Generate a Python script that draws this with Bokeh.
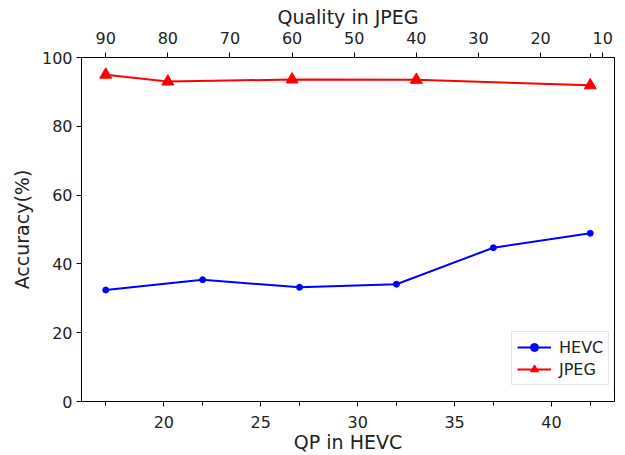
from bokeh.plotting import figure
from bokeh.models import Range1d, LinearAxis, FixedTicker, Legend, LegendItem
from bokeh.embed import file_html
from bokeh.resources import INLINE

# Data
qp_hevc = [17, 22, 27, 32, 37, 42]
acc_hevc = [32.4, 35.4, 33.2, 34.1, 44.7, 48.9]

quality_jpeg = [90, 80, 60, 40, 12]
acc_jpeg = [95.0, 93.0, 93.6, 93.5, 91.9]

bottom_ticks = [20, 25, 30, 35, 40]
bottom_minor = [17, 22, 27, 32, 37, 42]
top_ticks = [90, 80, 70, 60, 50, 40, 30, 20, 10]
top_minor = [12]
y_ticks = [0, 20, 40, 60, 80, 100]

FONT = "DejaVu Sans"

p = figure(width=625, height=455, output_backend="svg", toolbar_location=None,
           x_range=Range1d(15.75, 43.25), y_range=Range1d(0, 100))
p.extra_x_ranges = {"q": Range1d(93.9, 8.1)}

p.min_border_left = 81
p.min_border_right = 11
p.min_border_top = 57
p.min_border_bottom = 52
p.outline_line_color = "black"
p.outline_line_width = 1
p.xgrid.visible = False
p.ygrid.visible = False
p.background_fill_color = "white"
p.border_fill_color = "white"

def style_axis(ax, label, tick_standoff, label_standoff):
    ax.axis_label = label
    ax.axis_label_text_font = FONT
    ax.axis_label_text_font_size = "19px"
    ax.axis_label_text_font_style = "normal"
    ax.axis_label_text_color = "#222222"
    ax.major_label_text_font = FONT
    ax.major_label_text_font_size = "16px"
    ax.major_label_text_color = "#222222"
    ax.axis_line_color = "black"
    ax.major_tick_line_color = "black"
    ax.minor_tick_line_color = "black"
    ax.major_tick_in = 0
    ax.major_tick_out = 5
    ax.minor_tick_in = 0
    ax.minor_tick_out = 4
    ax.major_label_standoff = tick_standoff
    ax.axis_label_standoff = label_standoff

xb = p.xaxis[0]
xb.ticker = FixedTicker(ticks=bottom_ticks, minor_ticks=bottom_minor)
style_axis(xb, "QP in HEVC", 9, 0)

yl = p.yaxis[0]
yl.ticker = FixedTicker(ticks=y_ticks)
style_axis(yl, "Accuracy(%)", 4, 6)
yl.minor_tick_line_color = None

xt = LinearAxis(x_range_name="q")
xt.ticker = FixedTicker(ticks=top_ticks, minor_ticks=top_minor)
style_axis(xt, "Quality in JPEG", 9, 1)
p.add_layout(xt, "above")

blue = "#0000ff"
red = "#ff0000"

l1 = p.line(qp_hevc, acc_hevc, line_color=blue, line_width=2)
s1 = p.scatter(qp_hevc, acc_hevc, marker="circle", size=6, fill_color=blue, line_color=blue)

l2 = p.line(quality_jpeg, acc_jpeg, line_color=red, line_width=2, x_range_name="q")
s2 = p.scatter(quality_jpeg, acc_jpeg, marker="triangle", size=12, fill_color=red, line_color=red,
               x_range_name="q")

legend = Legend(items=[LegendItem(label="HEVC", renderers=[l1, s1]),
                       LegendItem(label="JPEG", renderers=[l2, s2])],
                location=(430, 16))
legend.label_text_font = FONT
legend.label_text_font_size = "16px"
legend.label_text_color = "#222222"
legend.glyph_width = 34
legend.glyph_height = 20
legend.label_height = 20
legend.label_standoff = 8
legend.padding = 5
legend.spacing = 2
legend.margin = 0
legend.border_line_color = "#cccccc"
legend.border_line_width = 1
legend.background_fill_alpha = 0.8
p.add_layout(legend, "center")

open("out.html", "w").write(file_html(p, INLINE))
